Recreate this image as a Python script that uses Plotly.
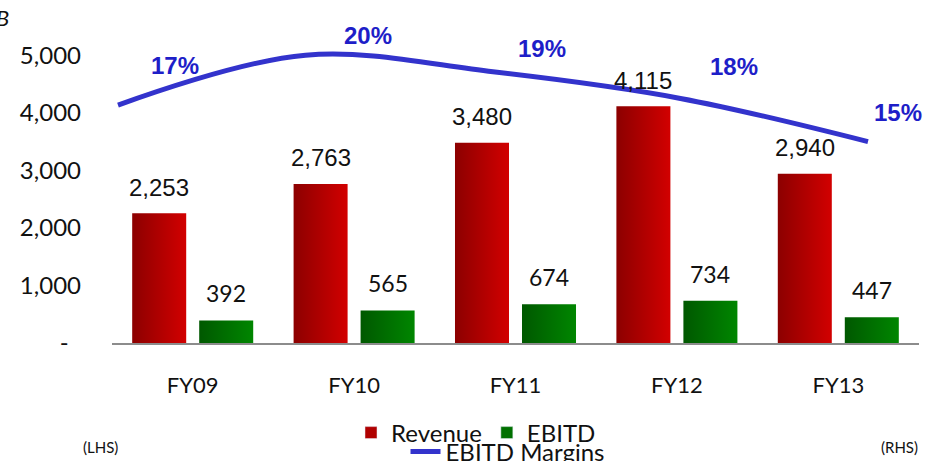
import plotly.graph_objects as go

# ---------------- data ----------------
categories = ["FY09", "FY10", "FY11", "FY12", "FY13"]
revenue = [2253, 2763, 3480, 4115, 2940]
ebitd = [392, 565, 674, 734, 447]
margin_pct = [17.4, 20.4, 19.4, 17.8, 15.2]
margin_labels = ["17%", "20%", "19%", "18%", "15%"]
revenue_labels = ["2,253", "2,763", "3,480", "4,115", "2,940"]
ebitd_labels = ["392", "565", "674", "734", "447"]
y_tickvals = [0, 1000, 2000, 3000, 4000, 5000]
y_ticktext = ["-\u00a0\u00a0", "1,000", "2,000", "3,000", "4,000", "5,000"]

# ---------------- styling ----------------
W, H = 938, 461
ML, MR, MT, MB = 112, 19, 20, 118
HALF = 0.1673      # half bar width (category units)
OFF = 0.2076       # bar centre offset from category centre
REV_SCALE = [[0, "#8C0000"], [1, "#D20000"]]
EB_SCALE = [[0, "#005800"], [1, "#008600"]]
LINE_COLOR = "#3333CC"
LABEL_BLUE = "#1E1EC8"
# per-label offsets of the margin labels (pixels)
m_dx = [57, 62, 49, 53, 30]
m_dy = [40, 20, 23, 32, 29]

fig = go.Figure()

def add_bar(xc, val, scale, name):
    l, r = xc - HALF, xc + HALF
    fig.add_trace(go.Scatter(
        x=[l, r, r, l, l], y=[0, 0, val, val, 0],
        mode="lines", fill="toself",
        line=dict(width=0, color="rgba(0,0,0,0)"),
        fillgradient=dict(type="horizontal", colorscale=scale),
        showlegend=False, hoverinfo="text", text=f"{name}: {val:,}",
        xaxis="x", yaxis="y"))

for i in range(len(categories)):
    add_bar(i - OFF, revenue[i], REV_SCALE, "Revenue")
    add_bar(i + OFF, ebitd[i], EB_SCALE, "EBITD")

# legend entries for the bar series
fig.add_trace(go.Bar(x=[None], y=[None], name="Revenue",
                     marker=dict(color="#B00000"), legend="legend"))
fig.add_trace(go.Bar(x=[None], y=[None], name="EBITD",
                     marker=dict(color="#007000"), legend="legend"))

# margin line
fig.add_trace(go.Scatter(
    x=list(range(len(categories))), y=margin_pct, name="EBITD Margins",
    mode="lines", line=dict(color=LINE_COLOR, width=5, shape="spline"),
    xaxis="x2", yaxis="y2", legend="legend2"))

annotations = []
for i in range(len(categories)):
    annotations.append(dict(
        x=i - OFF, y=revenue[i], xref="x", yref="y", text=revenue_labels[i],
        showarrow=False, yanchor="middle", yshift=26,
        font=dict(family="Liberation Sans", size=24, color="#111111")))
    annotations.append(dict(
        x=i + OFF, y=ebitd[i], xref="x", yref="y", text=ebitd_labels[i],
        showarrow=False, yanchor="middle", yshift=27,
        font=dict(family="Lato", size=23, color="#111111")))
    annotations.append(dict(
        x=i, y=margin_pct[i], xref="x2", yref="y2",
        text="<b>" + margin_labels[i] + "</b>",
        showarrow=False, xanchor="center", yanchor="middle",
        xshift=m_dx[i], yshift=m_dy[i],
        font=dict(family="Liberation Sans", size=24, color=LABEL_BLUE)))

pw = W - ML - MR
ph = H - MT - MB
def px_x(x):
    return (x - ML) / pw
def px_y(y):
    return (H - MB - y) / ph

annotations += [
    dict(x=px_x(100), y=px_y(447), xref="paper", yref="paper", text="(LHS)",
         xanchor="center", yanchor="middle", showarrow=False,
         font=dict(family="Lato", size=15, color="#111111")),
    dict(x=px_x(899), y=px_y(447), xref="paper", yref="paper", text="(RHS)",
         xanchor="center", yanchor="middle", showarrow=False,
         font=dict(family="Lato", size=15, color="#111111")),
    dict(x=px_x(-6), y=px_y(18), xref="paper", yref="paper", text="<i>B</i>",
         xanchor="left", yanchor="middle", showarrow=False,
         font=dict(family="Lato", size=22, color="#111111")),
]

fig.update_layout(
    width=W, height=H,
    margin=dict(l=ML, r=MR, t=MT, b=MB, autoexpand=False),
    paper_bgcolor="white", plot_bgcolor="white",
    xaxis=dict(range=[-0.5, 4.5], tickvals=list(range(len(categories))),
               ticktext=categories, showgrid=False, zeroline=False,
               showline=True, linecolor="#8C8C8C", linewidth=2,
               ticks="", ticklabelstandoff=22, automargin=False,
               tickfont=dict(family="Lato", size=22, color="#111111")),
    yaxis=dict(range=[0, 5612], tickvals=y_tickvals, ticktext=y_ticktext,
               showgrid=False, zeroline=False, showline=False, ticks="",
               ticklabelstandoff=30, automargin=False,
               tickfont=dict(family="Lato", size=24, color="#111111")),
    xaxis2=dict(range=[-0.032, 4.272], overlaying="x", visible=False),
    yaxis2=dict(range=[3.08, 22.52], overlaying="y", side="right", visible=False),
    legend=dict(orientation="h", x=px_x(476), xanchor="center",
                y=px_y(433), yanchor="middle", bgcolor="rgba(0,0,0,0)",
                font=dict(family="Lato", size=24, color="#111111"),
                itemwidth=30, traceorder="normal"),
    legend2=dict(orientation="h", x=px_x(508), xanchor="center",
                 y=px_y(452), yanchor="middle", bgcolor="rgba(0,0,0,0)",
                 font=dict(family="Lato", size=24, color="#111111"),
                 itemwidth=30),
    annotations=annotations,
    hovermode="closest",
)

fig.write_html("out.html", config={"displayModeBar": False},
               post_script="document.body.style.margin='0';"
                           "document.body.style.overflow='hidden';")
